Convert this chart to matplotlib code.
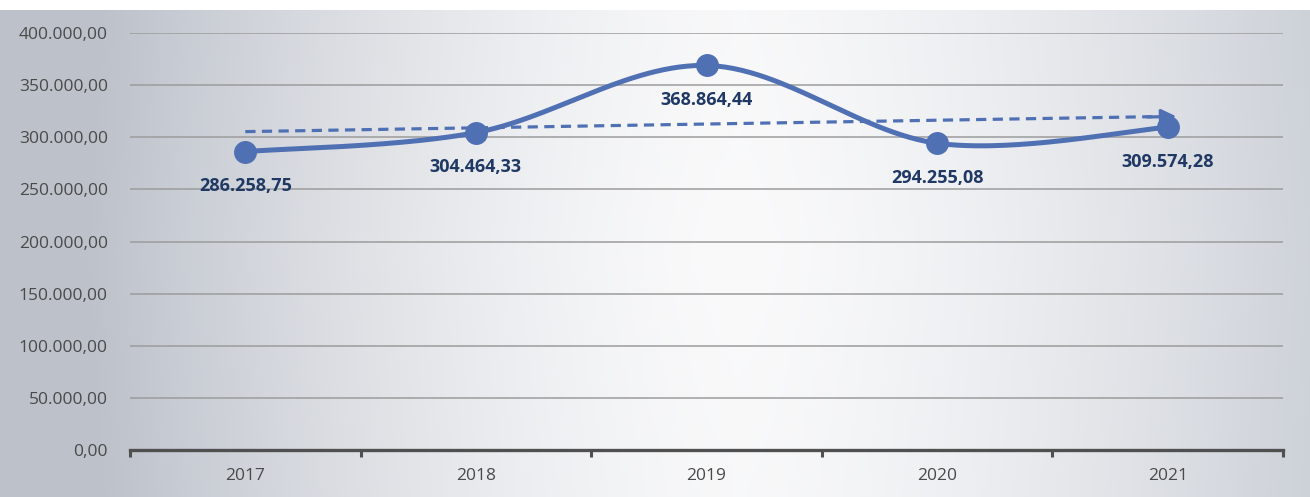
import numpy as np
import matplotlib.pyplot as plt
from matplotlib.ticker import FuncFormatter

years = ['2017', '2018', '2019', '2020', '2021']
values = [286258.75, 304464.33, 368864.44, 294255.08, 309574.28]

LINE_BLUE = '#5070b4'
LABEL_NAVY = '#1f3864'
TEXT_GRAY = '#4a4a4a'


def br_number(v, pos=None):
    # 1234567.8 -> 1.234.567,80
    s = f'{v:,.2f}'
    return s.replace(',', 'X').replace('.', ',').replace('X', '.')


def smooth_curve(x, y, steps=60):
    # Catmull-Rom style bezier through every point (like Excel's smoothed line)
    px = np.asarray(x, dtype=float)
    py = np.asarray(y, dtype=float)
    n = len(px)
    out_x, out_y = [], []
    t = np.linspace(0, 1, steps)
    for i in range(n - 1):
        i0 = max(i - 1, 0)
        i3 = min(i + 2, n - 1)
        p0 = np.array([px[i], py[i]])
        p3 = np.array([px[i + 1], py[i + 1]])
        c1 = p0 + (np.array([px[i + 1], py[i + 1]]) - np.array([px[i0], py[i0]])) / 6
        c2 = p3 - (np.array([px[i3], py[i3]]) - np.array([px[i], py[i]])) / 6
        b = ((1 - t) ** 3)[:, None] * p0 + (3 * (1 - t) ** 2 * t)[:, None] * c1 \
            + (3 * (1 - t) * t ** 2)[:, None] * c2 + (t ** 3)[:, None] * p3
        out_x.extend(b[:, 0])
        out_y.extend(b[:, 1])
    return np.array(out_x), np.array(out_y)


plt.rcParams['font.family'] = ['Open Sans', 'DejaVu Sans']

fig = plt.figure(figsize=(13.1, 4.97), dpi=100)
fig.patch.set_facecolor('white')

# scanned-paper style background: grey at the sides, bright in the middle
bg = fig.add_axes([0, 0, 1, 487 / 497], zorder=0)
gx = np.linspace(0, 1, 400)
gy = np.linspace(0, 1, 120)
GX, GY = np.meshgrid(gx, gy)
dist = np.clip(np.abs(GX - 0.56) / 0.5, 0, 1) ** 1.5
dist = np.clip(dist + 0.08 * np.abs(GY - 0.5), 0, 1)
left = np.array([188, 193, 202]) / 255
right = np.array([198, 203, 211]) / 255
center = np.array([250, 250, 251]) / 255
edge = np.where((GX < 0.56)[..., None], left, right)
img = center * (1 - dist[..., None]) + edge * dist[..., None]
bg.imshow(img, aspect='auto', extent=[0, 1, 0, 1], origin='lower')
bg.axis('off')

ax = fig.add_axes([130 / 1310, 47 / 497, 1153 / 1310, 417 / 497], zorder=1)
ax.patch.set_alpha(0)

x = np.arange(len(years))

# gridlines
ax.set_ylim(0, 400000)
ax.set_yticks(np.arange(0, 400001, 50000))
ax.yaxis.set_major_formatter(FuncFormatter(br_number))
ax.grid(axis='y', color='#9c9c9c', lw=1.1)
ax.set_axisbelow(True)

# smoothed series
sx, sy = smooth_curve(x, values)
ax.plot(sx, sy, color=LINE_BLUE, lw=3.6, solid_capstyle='round', zorder=3)
ax.plot(x, values, 'o', color=LINE_BLUE, ms=15.5, zorder=4)

# linear trend line with arrow head
coef = np.polyfit(x, values, 1)
trend = np.polyval(coef, x)
ax.plot(x, trend, color=LINE_BLUE, lw=2.3, ls=(0, (3.2, 2.0)), zorder=3)
ax.annotate('', xy=(x[-1] + 0.05, trend[-1]), xytext=(x[-1] - 0.1, trend[-1] - 600),
            arrowprops=dict(arrowstyle='-|>,head_length=0.9,head_width=0.45',
                            color=LINE_BLUE, lw=2.3), zorder=3)

for xi, v in zip(x, values):
    ax.annotate(br_number(v), (xi, v), xytext=(0, -25), textcoords='offset points',
                ha='center', va='center', fontsize=13, fontweight='bold',
                color=LABEL_NAVY, zorder=5)

ax.set_xlim(-0.5, len(years) - 0.5)
ax.set_xticks(x)
ax.set_xticklabels(years)
ax.set_xticks(np.arange(-0.5, len(years)), minor=True)
ax.tick_params(axis='x', which='major', length=0, pad=13, labelsize=12.5, labelcolor=TEXT_GRAY)
ax.tick_params(axis='x', which='minor', length=5, width=2.2, color='#505050')
ax.tick_params(axis='y', length=0, pad=16, labelsize=12.5, labelcolor=TEXT_GRAY)

for side in ['top', 'right', 'left']:
    ax.spines[side].set_visible(False)
ax.spines['bottom'].set_color('#505050')
ax.spines['bottom'].set_linewidth(2.4)

fig.savefig('out.png', dpi=100)
